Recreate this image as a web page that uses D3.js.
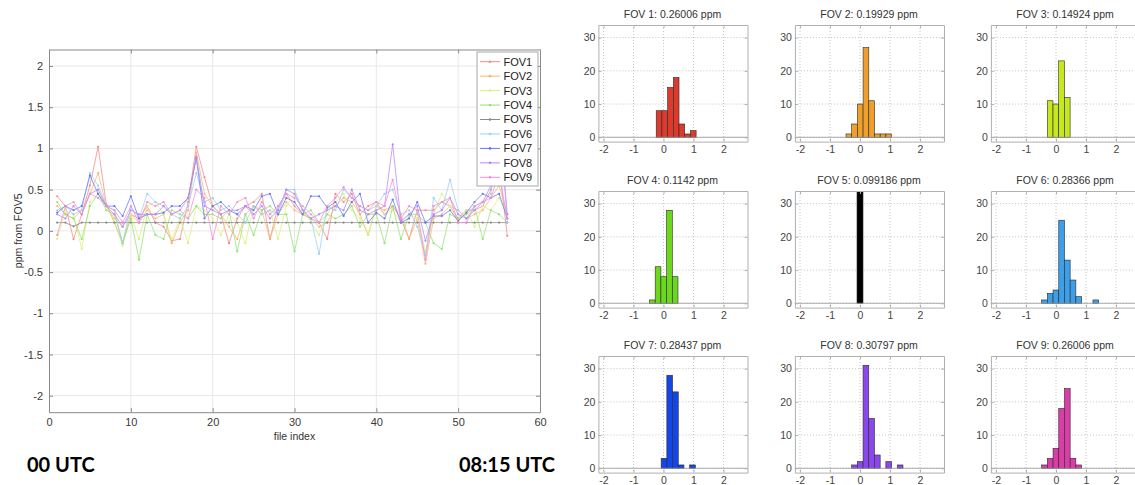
<!DOCTYPE html>
<html>
<head>
<meta charset="utf-8">
<script src="https://cdn.jsdelivr.net/npm/d3@7"></script>
<style>
  body { margin: 0; background: #fff; }
  svg { display: block; }
  text { font-family: "Liberation Sans", Arial, sans-serif; }
</style>
</head>
<body>
<svg id="chart" width="1135" height="485"></svg>
<script>
// ---------------- DATA ----------------
const fovNames = ["FOV1","FOV2","FOV3","FOV4","FOV5","FOV6","FOV7","FOV8","FOV9"];
const fileIndex = d3.range(1, 57);

const fov1 = [0.42,0.3,-0.1,0.2,0.55,1.02,0.32,0.1,-0.15,0.2,0.15,0.3,0.1,0.05,-0.12,-0.1,0.35,1.02,0.65,0.3,0.2,-0.15,0.15,0.3,0.35,0.45,-0.1,0.3,0.45,0.3,0.2,0.15,0.1,-0.1,0.45,0.35,0.45,0.2,0.3,0.35,0.2,0.3,0.15,-0.1,0.25,0.25,0.25,0.35,0.3,0.15,0.25,0.25,0.3,0.5,0.8,-0.06];
const fov2 = [0.3,0.2,0.15,0.25,0.45,0.7,0.3,0.15,0.05,0.2,0.1,0.25,0.15,0.2,-0.15,0.1,0.25,0.95,0.45,0.3,0.2,0.05,-0.1,0.2,0.3,0.25,-0.1,0.2,0.35,0.25,0.2,0.15,0.05,0.1,0.3,0.4,0.35,0.2,-0.05,0.3,0.25,0.3,0.2,-0.1,0.15,-0.4,0.15,0.2,0.3,0.25,0.15,0.2,0.25,0.4,0.55,0.2];
const fov3 = [-0.1,0.25,0.2,-0.22,0.35,0.45,0.3,0.1,-0.18,0.2,-0.1,0.3,0.35,0.2,-0.1,0.15,-0.15,0.3,0.25,0.15,-0.05,0.2,0.1,-0.15,0.3,0.2,0.25,-0.1,0.3,0.45,0.25,0.1,-0.05,0.2,0.35,0.45,0.25,0.15,-0.05,0.3,0.2,0.25,0.1,0.2,0.15,-0.25,0.2,0.45,0.3,0.1,0.25,0.05,0.3,0.25,0.4,0.2];
const fov4 = [0.35,0.2,0.15,-0.1,0.3,0.45,0.25,0.2,-0.15,0.15,-0.35,0.2,-0.05,-0.1,0.25,0.2,0.15,0.3,0.2,0.2,0.15,0.25,-0.25,0.2,-0.05,0.25,0.3,0.2,0.2,-0.25,0.2,0.25,0.1,0.2,0.15,0.2,0.3,0.05,0.2,0.2,-0.15,0.3,-0.1,0.2,0.2,0.1,-0.15,-0.22,0.2,0.15,0.2,0.3,-0.1,0.25,0.2,0.1];
const fov5 = [0.1,0.1,0.055,0.1,0.1,0.1,0.1,0.1,0.1,0.1,0.1,0.1,0.1,0.1,0.1,0.1,0.1,0.1,0.1,0.1,0.1,0.1,0.1,0.1,0.1,0.1,0.1,0.1,0.1,0.1,0.1,0.1,0.1,0.1,0.1,0.1,0.1,0.1,0.1,0.1,0.1,0.1,0.1,0.1,0.1,0.1,0.1,0.1,0.1,0.1,0.1,0.1,0.1,0.1,0.1,0.1];
const fov6 = [0.25,0.3,0.2,0.25,0.7,0.55,0.3,0.25,-0.15,0.3,0.15,0.45,0.35,0.3,0.2,0.15,0.3,0.7,0.35,0.4,0.25,0.3,0.2,0.1,0.3,0.2,0.25,0.2,0.5,0.5,0.25,0.15,-0.28,0.3,0.25,0.5,0.4,0.3,0.25,0.3,0.45,0.5,0.2,0.25,0.05,-0.3,0.4,0.25,0.62,0.25,0.15,0.3,0.35,0.45,1.4,0.1];
const fov7 = [0.22,0.3,0.25,0.3,0.67,0.45,0.3,0.3,0.18,0.42,0.15,0.2,0.2,0.22,0.3,0.3,0.4,0.88,0.15,0.3,0.35,0.25,0.2,0.3,0.25,0.42,0.45,0.2,0.4,0.35,0.2,0.42,0.42,0.28,0.35,0.18,0.35,0.45,0.1,0.22,0.15,0.38,0.1,0.15,0.35,0.1,0.18,0.18,0.25,0.12,0.22,0.35,0.45,0.4,0.45,0.15];
const fov8 = [0.2,0.15,0.3,0.2,0.45,0.5,0.3,0.2,0.05,0.25,0.2,0.2,0.2,0.3,0.2,0.25,0.4,0.9,0.3,0.25,0.2,0.25,0.25,0.3,0.2,0.3,0.15,0.25,0.5,0.45,0.25,0.15,0.2,0.25,0.3,0.25,0.5,0.25,0.2,0.25,0.3,1.05,0.12,0.2,0.3,-0.12,0.2,0.25,0.4,0.2,0.15,0.25,0.35,0.55,1.4,0.2];
const fov9 = [-0.05,0.3,0.35,0.2,0.45,0.4,0.3,0.25,0.1,0.3,0.1,0.35,0.3,0.35,0.2,0.25,0.15,0.5,0.4,-0.1,0.3,0.2,0.35,0.4,0.15,0.35,0.2,0.3,0.45,0.4,0.3,0.2,0.1,0.3,0.4,0.53,0.4,0.3,0.25,0.35,0.3,0.62,0.15,0.3,0.25,-0.35,0.3,0.35,0.4,0.1,0.1,0.3,0.35,0.4,0.7,0.15];
const seriesValues = [fov1, fov2, fov3, fov4, fov5, fov6, fov7, fov8, fov9];

const lineColors = ["#f28a88","#f6b870","#dcf07a","#92e472","#8a8a8a","#9ad0f6","#6a76f2","#bc86f6","#f38ed8"];

const xTicksMain = [0,10,20,30,40,50,60];
const yTicksMain = [-2,-1.5,-1,-0.5,0,0.5,1,1.5,2];

// histograms
const histTitles = ["FOV 1: 0.26006 ppm","FOV 2: 0.19929 ppm","FOV 3: 0.14924 ppm",
                    "FOV 4: 0.1142 ppm","FOV 5: 0.099186 ppm","FOV 6: 0.28366 ppm",
                    "FOV 7: 0.28437 ppm","FOV 8: 0.30797 ppm","FOV 9: 0.26006 ppm"];
const histStarts = [-0.243,-0.467,-0.29,-0.467,-0.1,-0.478,-0.078,-0.278,-0.478];
const histWidths = [0.19,0.19,0.19,0.19,0.2,0.19,0.19,0.19,0.19];
const histCounts = [
  [8,8,15,18,4,1,2],
  [1,4,10,27,11,1,1,1],
  [11,10,23,12],
  [1,11,8,28,8],
  [56],
  [1,3,4,25,13,7,2,0,0,1],
  [3,28,23,1,0,1],
  [1,2,31,15,4,0,2,0,1],
  [1,3,6,18,24,3,1]
];
const histColors = ["#dc3a2c","#efa02c","#c6e81e","#6cd81c","#000000","#3c9fe8","#1546e8","#8a48ec","#d93ea8"];
const histXTicks = [-2,-1,0,1,2];
const histYTicks = [0,10,20,30];

// ---------------- DRAW ----------------
const fmt = d => String(d);
const svg = d3.select("#chart");
svg.append("rect").attr("width",1135).attr("height",485).attr("fill","#fff");

// ===== left line chart =====
const L = {left: 49, right: 540, top: 49.5, bottom: 412.2};
const x = d3.scaleLinear().domain([0,60]).range([L.left, L.right]);
const y = d3.scaleLinear().domain([-2.2,2.2]).range([L.bottom, L.top]);

const gMain = svg.append("g");
gMain.append("g").selectAll("line").data(xTicksMain.slice(1,-1)).join("line")
  .attr("x1", d=>x(d)).attr("x2", d=>x(d)).attr("y1", L.top).attr("y2", L.bottom)
  .attr("stroke","#e8e8e8").attr("stroke-width",1);
gMain.append("g").selectAll("line").data(yTicksMain).join("line")
  .attr("x1", L.left).attr("x2", L.right).attr("y1", d=>y(d)).attr("y2", d=>y(d))
  .attr("stroke","#e8e8e8").attr("stroke-width",1);

const axB = gMain.append("g").attr("transform",`translate(0,${L.bottom})`)
  .call(d3.axisBottom(x).tickValues(xTicksMain).tickFormat(fmt).tickSizeInner(-4).tickSizeOuter(0).tickPadding(6));
const axL = gMain.append("g").attr("transform",`translate(${L.left},0)`)
  .call(d3.axisLeft(y).tickValues(yTicksMain).tickFormat(fmt).tickSizeInner(-4).tickSizeOuter(0).tickPadding(6));
const axT = gMain.append("g").attr("transform",`translate(0,${L.top})`)
  .call(d3.axisTop(x).tickValues(xTicksMain).tickSizeInner(-4).tickSizeOuter(0).tickFormat(""));
const axR = gMain.append("g").attr("transform",`translate(${L.right},0)`)
  .call(d3.axisRight(y).tickValues(yTicksMain).tickSizeInner(-4).tickSizeOuter(0).tickFormat(""));
[axB, axL, axT, axR].forEach(a => {
  a.select(".domain").attr("stroke","#8a8a8a");
  a.selectAll(".tick line").attr("stroke","#8a8a8a");
  a.selectAll(".tick text").attr("fill","#3a3a3a").style("font-size","11px");
});

svg.append("clipPath").attr("id","clipMain").append("rect")
  .attr("x",L.left).attr("y",L.top).attr("width",L.right-L.left).attr("height",L.bottom-L.top);

const lineGen = d3.line().x((d,i)=>x(fileIndex[i])).y(d=>y(d));
const gLines = gMain.append("g").attr("clip-path","url(#clipMain)");
seriesValues.forEach((vals, k) => {
  gLines.append("path").datum(vals).attr("d", lineGen)
    .attr("fill","none").attr("stroke", lineColors[k]).attr("stroke-width", 0.9)
    .attr("stroke-opacity", 0.85);
  gLines.append("g").selectAll("circle").data(vals).join("circle")
    .attr("cx",(d,i)=>x(fileIndex[i])).attr("cy",d=>y(d)).attr("r",1.1)
    .attr("fill", lineColors[k]);
});

gMain.append("text").attr("x", (L.left+L.right)/2).attr("y", 440)
  .attr("text-anchor","middle").attr("fill","#333").style("font-size","10.5px").text("file index");
gMain.append("text").attr("transform",`translate(22,${y(0)}) rotate(-90)`)
  .attr("text-anchor","middle").attr("fill","#333").style("font-size","10.5px").text("ppm from FOV5");

// legend
const lg = gMain.append("g");
lg.append("rect").attr("x",477).attr("y",52).attr("width",61).attr("height",134)
  .attr("fill","#fff").attr("stroke","#a8a8a8").attr("stroke-width",1);
fovNames.forEach((n,k) => {
  const ly = 61.7 + k*14.45;
  lg.append("line").attr("x1",480).attr("x2",500).attr("y1",ly).attr("y2",ly)
    .attr("stroke",lineColors[k]).attr("stroke-width",1);
  lg.append("circle").attr("cx",490).attr("cy",ly).attr("r",1.3).attr("fill",lineColors[k]);
  lg.append("text").attr("x",503.5).attr("y",ly).attr("dy","0.36em")
    .attr("fill","#222").style("font-size","11px").text(n);
});

svg.append("text").attr("x",27).attr("y",472).style("font-family","Lato, 'Open Sans', sans-serif")
  .style("font-weight","bold").style("font-size","20px").attr("fill","#000").text("00 UTC");
svg.append("text").attr("x",555).attr("y",472).attr("text-anchor","end").style("font-family","Lato, 'Open Sans', sans-serif")
  .style("font-weight","bold").style("font-size","20px").attr("fill","#000").text("08:15 UTC");

// ===== histograms =====
const colZero = [663.5, 860, 1056];
const rowZero = [137.3, 303.3, 468.3];

histCounts.forEach((counts, k) => {
  const c = k % 3, r = Math.floor(k / 3);
  const hx = d3.scaleLinear().domain([-2.17, 2.8]).range([colZero[c] - 65.1, colZero[c] + 84]);
  const hy = d3.scaleLinear().domain([-1.3, 33.8]).range([rowZero[r] + 4.3, rowZero[r] - 112.3]);
  const [x0, x1] = hx.range();
  const [yb, yt] = hy.range();
  const g = svg.append("g");

  g.append("clipPath").attr("id","clipH"+k).append("rect")
    .attr("x",x0).attr("y",yt).attr("width",x1-x0).attr("height",yb-yt);

  g.append("g").selectAll("line").data(histXTicks).join("line")
    .attr("x1",d=>hx(d)).attr("x2",d=>hx(d)).attr("y1",yt).attr("y2",yb)
    .attr("stroke","#c4c4c4").attr("stroke-dasharray","1,2");
  g.append("g").selectAll("line").data(histYTicks).join("line")
    .attr("x1",x0).attr("x2",x1).attr("y1",d=>hy(d)).attr("y2",d=>hy(d))
    .attr("stroke","#c4c4c4").attr("stroke-dasharray","1,2");

  const bars = counts.map((n,i) => ({x0: histStarts[k] + i*histWidths[k], x1: histStarts[k] + (i+1)*histWidths[k], n}))
    .filter(b => b.n > 0);
  g.append("g").attr("clip-path","url(#clipH"+k+")").selectAll("rect").data(bars).join("rect")
    .attr("x", b=>hx(b.x0)).attr("width", b=>hx(b.x1)-hx(b.x0))
    .attr("y", b=>hy(b.n)).attr("height", b=>hy(0)-hy(b.n))
    .attr("fill", histColors[k]).attr("stroke","#2a2a2a").attr("stroke-width",0.6);

  g.append("line").attr("x1",x0).attr("x2",x1).attr("y1",hy(0)).attr("y2",hy(0))
    .attr("stroke","#9a9a9a").attr("stroke-width",0.8);

  const aB = g.append("g").attr("transform",`translate(0,${yb})`)
    .call(d3.axisBottom(hx).tickValues(histXTicks).tickFormat(fmt).tickSizeInner(-3).tickSizeOuter(0).tickPadding(4));
  const aL = g.append("g").attr("transform",`translate(${x0},0)`)
    .call(d3.axisLeft(hy).tickValues(histYTicks).tickFormat(fmt).tickSizeInner(-3).tickSizeOuter(0).tickPadding(3));
  const aT = g.append("g").attr("transform",`translate(0,${yt})`)
    .call(d3.axisTop(hx).tickValues(histXTicks).tickSizeInner(-3).tickSizeOuter(0).tickFormat(""));
  const aR = g.append("g").attr("transform",`translate(${x1},0)`)
    .call(d3.axisRight(hy).tickValues(histYTicks).tickSizeInner(-3).tickSizeOuter(0).tickFormat(""));
  [aB,aL,aT,aR].forEach(a => {
    a.select(".domain").attr("stroke","#b0b0b0");
    a.selectAll(".tick line").attr("stroke","#b0b0b0");
    a.selectAll(".tick text").attr("fill","#444").style("font-size","10.5px");
  });

  g.append("text").attr("x", hx(0.3)).attr("y", yt - 7).attr("text-anchor","middle")
    .attr("fill","#333").style("font-size","10.5px").text(histTitles[k]);
});
</script>
</body>
</html>
